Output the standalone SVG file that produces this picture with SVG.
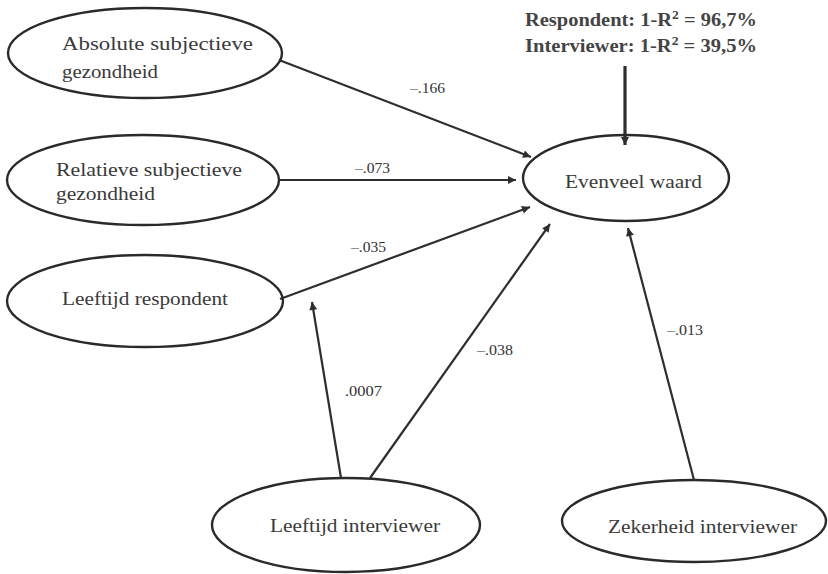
<svg xmlns="http://www.w3.org/2000/svg" width="828" height="574" viewBox="0 0 828 574">
<style>
.n{fill:none;stroke:#2a2a2a;stroke-width:2.4}
.t{font-family:"Liberation Serif",serif;font-size:19px;fill:#3a3a3a}
.l{font-family:"Liberation Serif",serif;font-size:14px;fill:#333}
.e{stroke:#2e2e2e;stroke-width:2.2;fill:none;marker-end:url(#ah2)}
.h{font-family:"Liberation Serif",serif;font-size:18px;font-weight:bold;fill:#444}
</style>
<defs>
<marker id="ah2" viewBox="0 0 10 10" refX="10" refY="5" markerWidth="10" markerHeight="8" markerUnits="userSpaceOnUse" orient="auto">
<path d="M0,0 L10,5 L0,10 z" fill="#2e2e2e"/>
</marker>
</defs>
<rect width="828" height="574" fill="#fff"/>
<g id="connectors">
<line class="e" x1="279" y1="60" x2="531" y2="157"/>
<line class="e" x1="279" y1="180" x2="516" y2="180"/>
<line class="e" x1="280" y1="299" x2="530" y2="207"/>
<line class="e" x1="370" y1="478" x2="550" y2="224"/>
<line class="e" x1="341" y1="478" x2="312" y2="302"/>
<line class="e" x1="694" y1="480" x2="628" y2="228"/>
<line x1="625" y1="66" x2="625" y2="145" stroke="#2e2e2e" stroke-width="3.2" marker-end="url(#ah2)"/>
<text class="l" x="410" y="93" textLength="35" lengthAdjust="spacingAndGlyphs">–.166</text>
<text class="l" x="355" y="173" textLength="35" lengthAdjust="spacingAndGlyphs">–.073</text>
<text class="l" x="351" y="252" textLength="35" lengthAdjust="spacingAndGlyphs">–.035</text>
<text class="l" x="477" y="355" textLength="36" lengthAdjust="spacingAndGlyphs">–.038</text>
<text class="l" x="345" y="396" font-size="13" textLength="37" lengthAdjust="spacingAndGlyphs">.0007</text>
<text class="l" x="667" y="335" textLength="36" lengthAdjust="spacingAndGlyphs">–.013</text>
</g>
<g id="residual">
<text class="h" x="525" y="26" textLength="232" lengthAdjust="spacingAndGlyphs">Respondent: 1-R<tspan font-size="12" dy="-7">2</tspan><tspan dy="7"> = 96,7%</tspan></text>
<text class="h" x="525" y="52" textLength="232" lengthAdjust="spacingAndGlyphs">Interviewer: 1-R<tspan font-size="12" dy="-7">2</tspan><tspan dy="7"> = 39,5%</tspan></text>
</g>
<g id="absolute">
<ellipse class="n" cx="145" cy="53" rx="137" ry="45"/>
<text class="t" x="62" y="50" textLength="191" lengthAdjust="spacingAndGlyphs">Absolute subjectieve</text>
<text class="t" x="62" y="78" textLength="96" lengthAdjust="spacingAndGlyphs">gezondheid</text>
</g>
<g id="relatieve">
<ellipse class="n" cx="143" cy="180" rx="136" ry="45"/>
<text class="t" x="56" y="176" textLength="186" lengthAdjust="spacingAndGlyphs">Relatieve subjectieve</text>
<text class="t" x="56" y="200" textLength="99" lengthAdjust="spacingAndGlyphs">gezondheid</text>
</g>
<g id="leeftijd-respondent">
<ellipse class="n" cx="145" cy="301" rx="138" ry="46"/>
<text class="t" x="62" y="305" textLength="166" lengthAdjust="spacingAndGlyphs">Leeftijd respondent</text>
</g>
<g id="evenveel">
<ellipse class="n" cx="626" cy="178" rx="103" ry="43"/>
<text class="t" x="565" y="188" textLength="137" lengthAdjust="spacingAndGlyphs">Evenveel waard</text>
</g>
<g id="leeftijd-interviewer">
<ellipse class="n" cx="346" cy="525" rx="134" ry="47"/>
<text class="t" x="270" y="532" textLength="170" lengthAdjust="spacingAndGlyphs">Leeftijd interviewer</text>
</g>
<g id="zekerheid">
<ellipse class="n" cx="694" cy="521" rx="132" ry="41"/>
<text class="t" x="608" y="533" textLength="189" lengthAdjust="spacingAndGlyphs">Zekerheid interviewer</text>
</g>
</svg>
